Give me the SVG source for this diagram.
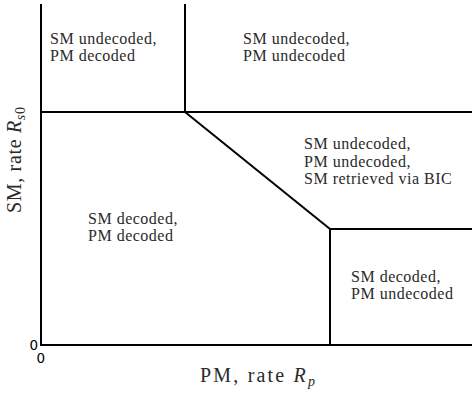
<svg xmlns="http://www.w3.org/2000/svg" width="472" height="393" viewBox="0 0 472 393">
  <style>
    .ln { stroke: #000; stroke-width: 2; fill: none; stroke-linecap: butt; }
    .lbl { font-family: "Liberation Serif", "Times New Roman", serif; font-size: 16px; letter-spacing: 0.5px; fill: #2a2a2a; }
    .ax { font-family: "Liberation Serif", "Times New Roman", serif; font-size: 20px; fill: #2a2a2a; }
    .tick { font-family: "DejaVu Sans", "Liberation Sans", sans-serif; font-size: 13.5px; fill: #000; }
  </style>
  <rect width="472" height="393" fill="#fff"/>
  <g id="connectors">
    <line class="ln" x1="41" y1="4" x2="41" y2="346"/>
    <line class="ln" x1="40" y1="345" x2="472" y2="345"/>
    <line class="ln" x1="185" y1="4" x2="185" y2="112"/>
    <line class="ln" x1="41" y1="112" x2="472" y2="112"/>
    <line class="ln" x1="185" y1="112" x2="330" y2="229"/>
    <line class="ln" x1="330" y1="229" x2="472" y2="229"/>
    <line class="ln" x1="330" y1="229" x2="330" y2="345"/>
  </g>
  <g id="region-sm-undecoded-pm-decoded">
    <text class="lbl" x="50" y="43.5">SM undecoded,</text>
    <text class="lbl" x="50" y="61">PM decoded</text>
  </g>
  <g id="region-sm-undecoded-pm-undecoded">
    <text class="lbl" x="243" y="43.5">SM undecoded,</text>
    <text class="lbl" x="243" y="61">PM undecoded</text>
  </g>
  <g id="region-bic">
    <text class="lbl" x="304" y="149">SM undecoded,</text>
    <text class="lbl" x="304" y="166.5">PM undecoded,</text>
    <text class="lbl" x="304" y="184">SM retrieved via BIC</text>
  </g>
  <g id="region-sm-decoded-pm-decoded">
    <text class="lbl" x="88" y="224">SM decoded,</text>
    <text class="lbl" x="88" y="241">PM decoded</text>
  </g>
  <g id="region-sm-decoded-pm-undecoded">
    <text class="lbl" x="351" y="282">SM decoded,</text>
    <text class="lbl" x="351" y="299">PM undecoded</text>
  </g>
  <g id="axis-labels">
    <text class="ax" x="257.5" y="382" text-anchor="middle" textLength="115">PM, rate <tspan font-style="italic">R</tspan><tspan font-style="italic" font-size="14" dy="4">p</tspan></text>
    <text class="ax" transform="translate(21,160) rotate(-90)" text-anchor="middle" textLength="106">SM, rate <tspan font-style="italic">R</tspan><tspan font-size="14" dy="4"><tspan font-style="italic">s</tspan>0</tspan></text>
    <text class="tick" x="29.5" y="350">0</text>
    <text class="tick" x="36.5" y="363">0</text>
  </g>
</svg>
